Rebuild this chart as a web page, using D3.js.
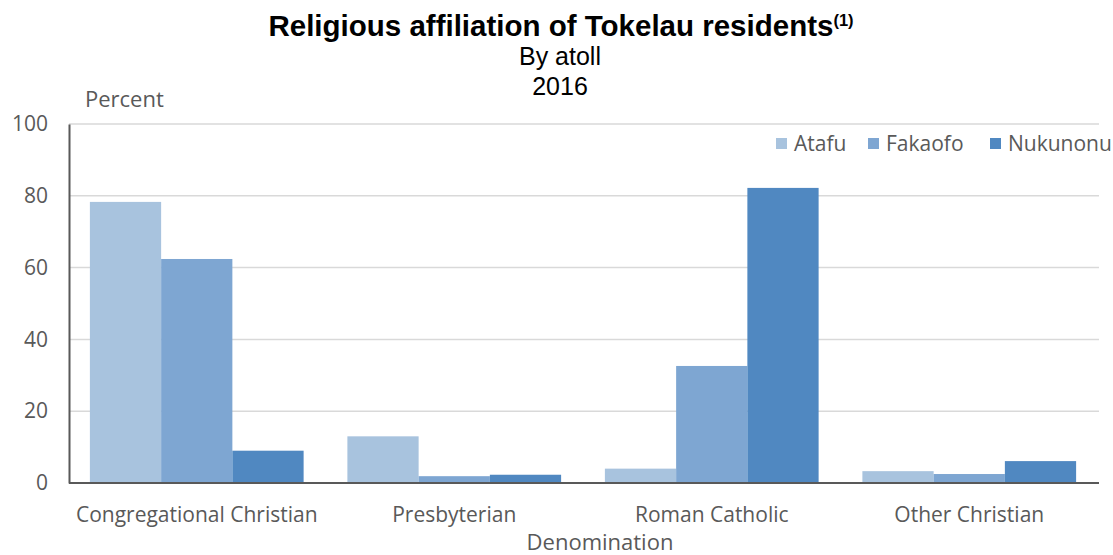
<!DOCTYPE html>
<html><head><meta charset="utf-8">
<script src="https://cdn.jsdelivr.net/npm/d3@7"></script>
<style>body{margin:0;background:#fff;} svg{display:block;}</style>
</head><body>
<svg id="c" width="1113" height="555"></svg>
<script>
const categories = ["Congregational Christian","Presbyterian","Roman Catholic","Other Christian"];
const seriesNames = ["Atafu","Fakaofo","Nukunonu"];
const atafu = [78.3, 13.0, 4.0, 3.3];
const fakaofo = [62.4, 1.9, 32.6, 2.5];
const nukunonu = [9.0, 2.3, 82.2, 6.1];
const yTicks = [0,20,40,60,80,100];
const colors = ["#a8c3de","#7ea6d2","#5088c1"];

const seriesValues = [atafu, fakaofo, nukunonu];
const svg = d3.select("#c");
const plotL = 69, plotR = 1099, plotT = 124, plotB = 483;
const font = "Open Sans, sans-serif";
const grey = "#595959";

const x0 = d3.scaleBand().domain(categories).range([68, 1098]).paddingInner(0.17).paddingOuter(0.085);
const x1 = d3.scaleBand().domain(seriesNames).range([0, x0.bandwidth()]);
const y = d3.scaleLinear().domain([0,100]).range([plotB, plotT]);

// gridlines
svg.append("g").selectAll("line").data(yTicks.filter(d=>d>0)).join("line")
  .attr("x1", plotL).attr("x2", plotR).attr("y1", d=>y(d)).attr("y2", d=>y(d))
  .attr("stroke", "#d9d9d9").attr("stroke-width", 1.5);

// bars
const g = svg.append("g");
categories.forEach((c, i) => {
  seriesNames.forEach((s, j) => {
    g.append("rect")
      .attr("x", x0(c) + x1(s)).attr("width", x1.bandwidth())
      .attr("y", y(seriesValues[j][i])).attr("height", y(0) - y(seriesValues[j][i]))
      .attr("fill", colors[j]);
  });
});

// y axis
const yAxis = d3.axisLeft(y).tickValues(yTicks).tickSize(0).tickPadding(21);
const ya = svg.append("g").attr("transform", `translate(${plotL},0)`).call(yAxis);
ya.select(".domain").attr("stroke", grey).attr("stroke-width", 2);
ya.selectAll("text").attr("font-family", font).attr("font-size", 21).attr("fill", grey);

// x axis
const xAxis = d3.axisBottom(x0).tickSize(0).tickPadding(24);
const xa = svg.append("g").attr("transform", `translate(0,${plotB})`).call(xAxis);
xa.select(".domain").attr("d", `M${plotL},0H${plotR}`).attr("stroke", grey).attr("stroke-width", 2);
xa.selectAll("text").attr("font-family", font).attr("font-size", 21).attr("fill", grey);

// axis titles
svg.append("text").attr("x", 85).attr("y", 107).attr("font-family", font).attr("font-size", 22).attr("fill", grey).text("Percent");
svg.append("text").attr("x", 600).attr("y", 550).attr("text-anchor","middle").attr("font-family", font).attr("font-size", 22).attr("fill", grey).text("Denomination");

// title
const t = svg.append("text").attr("x", 561).attr("y", 36).attr("text-anchor","middle")
  .attr("font-family","Liberation Sans, Arial, sans-serif").attr("font-weight","bold").attr("font-size",29.5).attr("fill","#000");
t.append("tspan").text("Religious affiliation of Tokelau residents");
t.append("tspan").attr("font-size",16.5).attr("dy",-10).text("(1)");
svg.append("text").attr("x",560).attr("y",65).attr("text-anchor","middle").attr("font-family","Liberation Sans, Arial, sans-serif").attr("font-size",25).text("By atoll");
svg.append("text").attr("x",560).attr("y",95).attr("text-anchor","middle").attr("font-family","Liberation Sans, Arial, sans-serif").attr("font-size",25).text("2016");

// legend
const legendX = [776, 868, 990];
const lg = svg.append("g");
seriesNames.forEach((s, j) => {
  lg.append("rect").attr("x", legendX[j]).attr("y", 138).attr("width", 11).attr("height", 11).attr("fill", colors[j]);
  lg.append("text").attr("x", legendX[j] + 18).attr("y", 151).attr("font-family", font).attr("font-size", 21).attr("fill", grey).text(s);
});
</script>
</body></html>
